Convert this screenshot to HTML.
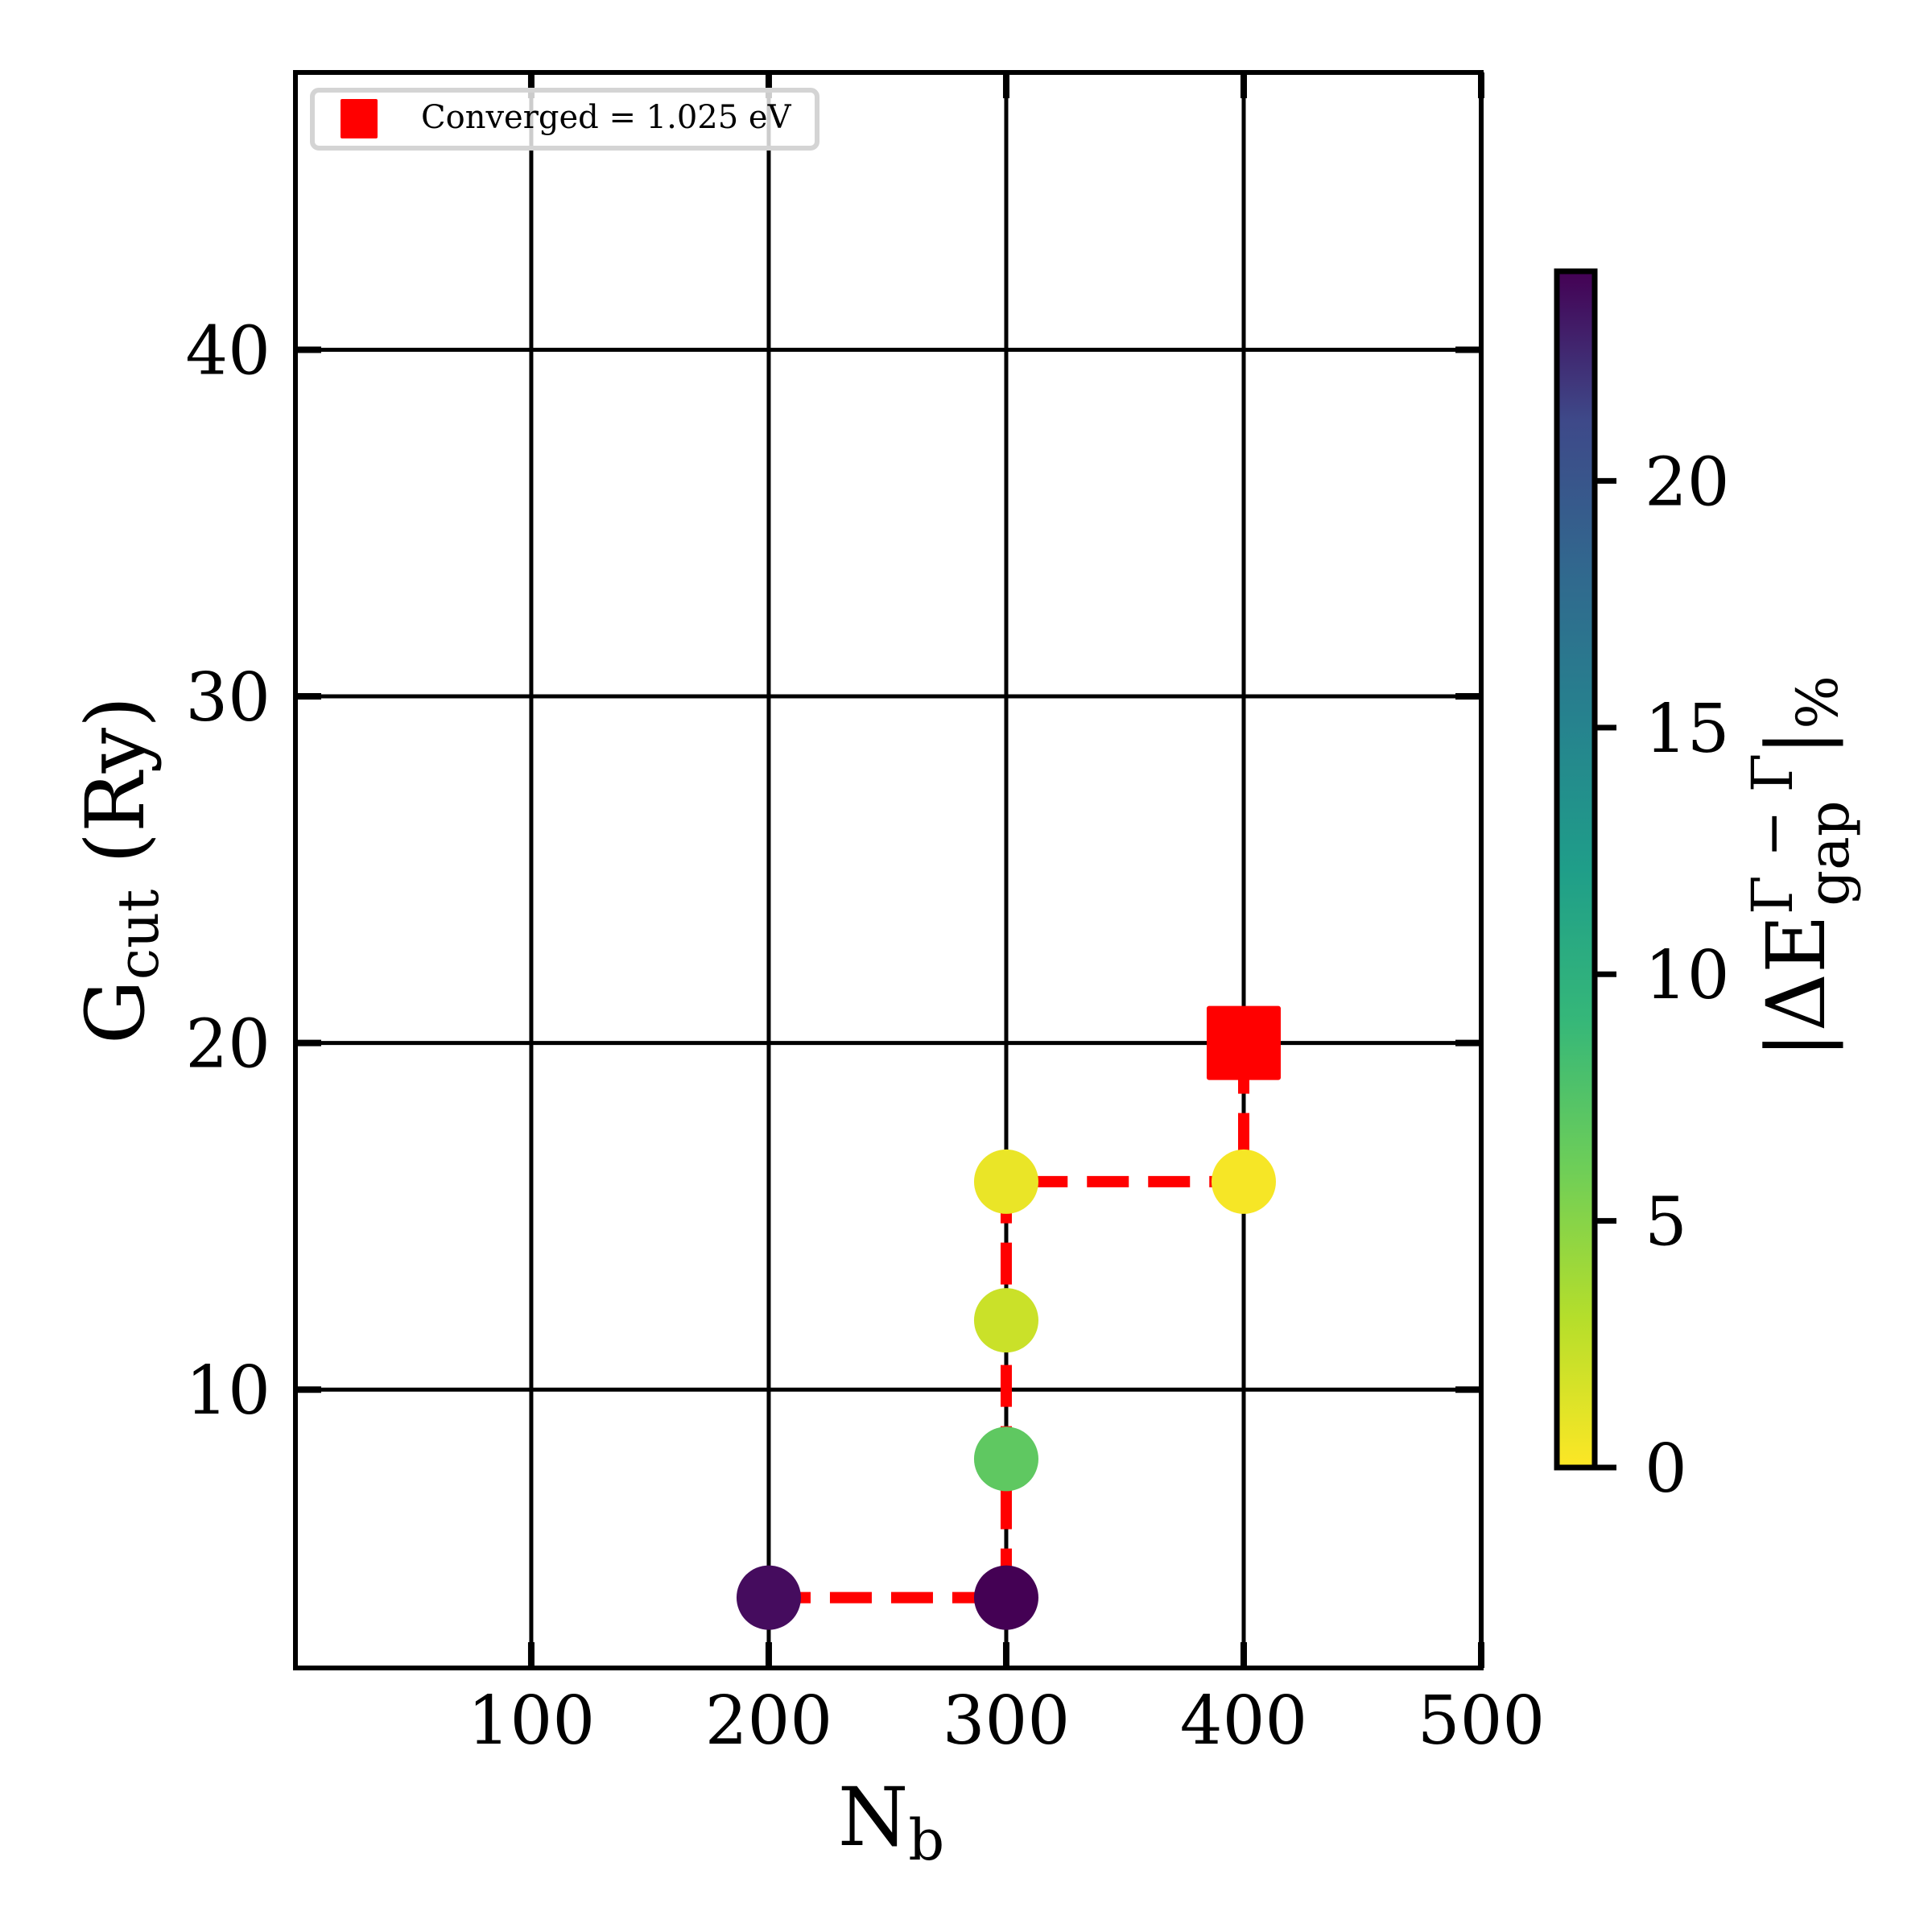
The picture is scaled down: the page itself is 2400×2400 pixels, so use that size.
<!DOCTYPE html>
<html><head><meta charset="utf-8"><style>
html,body{margin:0;padding:0;background:#fff;}
svg{display:block;}
text{font-family:"DejaVu Serif","Liberation Serif",serif;fill:#000;}
</style></head><body>
<svg id="chart" width="2400" height="2400" viewBox="0 0 2400 2400" xmlns="http://www.w3.org/2000/svg">
<defs>
<linearGradient id="cbgrad" x1="0" y1="1" x2="0" y2="0">
<stop offset="0" stop-color="#fde725"/><stop offset="0.125" stop-color="#b5de2b"/><stop offset="0.25" stop-color="#6ece58"/><stop offset="0.375" stop-color="#35b779"/><stop offset="0.5" stop-color="#1f9e89"/><stop offset="0.625" stop-color="#26828e"/><stop offset="0.75" stop-color="#31688e"/><stop offset="0.875" stop-color="#3e4989"/><stop offset="1" stop-color="#440154"/>
</linearGradient>
</defs>
<g id="grid"></g>
<g id="series"></g>
<g id="axes"></g>
<g id="legend">
<rect x="388" y="112" width="627" height="72" rx="8" fill="#fff" fill-opacity="0.8" stroke="#d4d4d4" stroke-width="6"/>
<rect x="423" y="123" width="46" height="49" rx="2" fill="#ff0000"/>
<text x="523" y="159" font-size="40">Converged = 1.025 eV</text>
</g>
<g id="colorbar">
<rect x="1934" y="337" width="47" height="1486" fill="url(#cbgrad)" stroke="#000" stroke-width="7"/>
</g>
<text x="1107" y="2292" font-size="100" text-anchor="middle">N<tspan font-size="70" dy="18">b</tspan></text>
<text transform="translate(178,1081) rotate(-90)" font-size="100" text-anchor="middle">G<tspan font-size="70" dy="18">cut</tspan><tspan dy="-18"> (Ry)</tspan></text>
<text transform="translate(2266,1077) rotate(-90)" font-size="100" text-anchor="middle">|ΔE<tspan font-size="70" dy="-40">Γ − Γ</tspan><tspan font-size="70" dx="-190" dy="70">gap</tspan><tspan dx="55" dy="-30">|</tspan><tspan font-size="70" dy="16">%</tspan></text>
</svg>
<script>
const xTicks=[100,200,300,400,500];
const yTicks=[10,20,30,40];
const cbTicks=[0,5,10,15,20];
const ptX=[200,300,300,300,300,400];
const ptY=[4,4,8,12,16,16];
const ptErr=[23.5,24.25,6.1,1.9,0.7,0.25];
const pathX=[200,300,300,300,300,400,400];
const pathY=[4,4,8,12,16,16,20];
const convX=[400];
const convY=[20];
const cbMax=24.25;
const NS="http://www.w3.org/2000/svg";
const L=367,R=1840,T=90,B=2072;
const xMin=0.7,xMax=500,yMin=1.97,yMax=48;
const sx=v=>L+(v-xMin)/(xMax-xMin)*(R-L);
const sy=v=>B-(v-yMin)/(yMax-yMin)*(B-T);
const cbT=337,cbB=1823;
const cy=v=>cbB-v/cbMax*(cbB-cbT);
const vir=[[68,1,84],[72,40,120],[62,73,137],[49,104,142],[38,130,142],[31,158,137],[53,183,121],[110,206,88],[181,222,43],[253,231,37]];
function color(v){let t=1-Math.max(0,Math.min(1,v/cbMax));let p=t*(vir.length-1);let i=Math.min(Math.floor(p),vir.length-2);let f=p-i;let c=vir[i].map((a,k)=>Math.round(a+(vir[i+1][k]-a)*f));return `rgb(${c[0]},${c[1]},${c[2]})`;}
function mk(tag,attrs,parent){const e=document.createElementNS(NS,tag);for(const k in attrs)e.setAttribute(k,attrs[k]);parent.appendChild(e);return e;}
const grid=document.getElementById('grid'),axes=document.getElementById('axes'),series=document.getElementById('series'),cb=document.getElementById('colorbar');
xTicks.forEach(v=>{const x=sx(v);
 let g=mk('line',{x1:x,y1:T,x2:x,y2:B,stroke:'#000','stroke-width':5},grid);
 
 
 mk('line',{x1:x,y1:B,x2:x,y2:B-32,stroke:'#000','stroke-width':8},axes);
 mk('line',{x1:x,y1:T,x2:x,y2:T+32,stroke:'#000','stroke-width':8},axes);
 let t=mk('text',{x:x,y:2166,'font-size':83,'text-anchor':'middle'},axes);t.textContent=v;
 
 
});
yTicks.forEach(v=>{const y=sy(v);
 let g=mk('line',{x1:L,y1:y,x2:R,y2:y,stroke:'#000','stroke-width':5},grid);
 
 
 mk('line',{x1:L,y1:y,x2:L+32,y2:y,stroke:'#000','stroke-width':8},axes);
 mk('line',{x1:R,y1:y,x2:R-32,y2:y,stroke:'#000','stroke-width':8},axes);
 let t=mk('text',{x:336,y:y+30,'font-size':83,'text-anchor':'end'},axes);t.textContent=v;
 
 
});
let sp=mk('rect',{x:L,y:T,width:R-L,height:B-T,fill:'none',stroke:'#000','stroke-width':6},axes);


let d=pathX.map((v,i)=>(i?'L':'M')+sx(v)+','+sy(pathY[i])).join(' ');
let pl=mk('path',{d:d,fill:'none',stroke:'#ff0000','stroke-width':14,'stroke-dasharray':'52 24'},series);


ptX.forEach((v,i)=>{let c=mk('circle',{cx:sx(v),cy:sy(ptY[i]),r:40,fill:color(ptErr[i])},series);
 
 
});
convX.forEach((v,i)=>{let s=mk('rect',{x:sx(v)-46,y:sy(convY[i])-46,width:92,height:92,rx:3,fill:'#ff0000'},series);
 
 
});
cbTicks.forEach(v=>{const y=cy(v);
 mk('line',{x1:1981,y1:y,x2:2008,y2:y,stroke:'#000','stroke-width':7},cb);
 let t=mk('text',{x:2043,y:y+30,'font-size':83},cb);t.textContent=v;
 
 
});
</script>
</body></html>
